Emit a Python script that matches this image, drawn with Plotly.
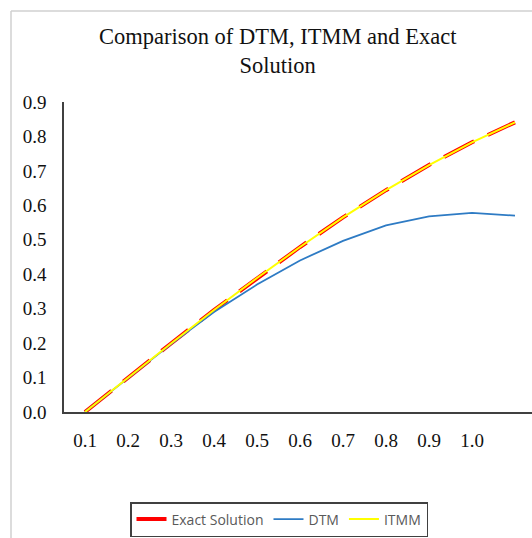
import plotly.graph_objects as go

# Grid points (11 nodes); only the first ten carry an axis label
x_vals = [0.1, 0.2, 0.3, 0.4, 0.5, 0.6, 0.7, 0.8, 0.9, 1.0, 1.1]
x_tick_labels = ["0.1", "0.2", "0.3", "0.4", "0.5", "0.6", "0.7", "0.8", "0.9", "1.0"]

exact_solution = [0.000, 0.100, 0.199, 0.296, 0.389, 0.479, 0.565, 0.644, 0.717, 0.783, 0.841]
dtm = [0.000, 0.099, 0.197, 0.290, 0.370, 0.440, 0.497, 0.542, 0.568, 0.578, 0.570]
itmm = [0.000, 0.100, 0.199, 0.296, 0.389, 0.479, 0.565, 0.644, 0.717, 0.783, 0.841]

y_ticks = [0.0, 0.1, 0.2, 0.3, 0.4, 0.5, 0.6, 0.7, 0.8, 0.9]

W, H = 532, 538
M_L, M_R, M_T, M_B = 64, 0, 102, 126
plot_w = W - M_L - M_R
plot_h = H - M_T - M_B

# 43 px per 0.1 step on the x axis, first node half a step in from the axis
px_per_unit = 430.0
x_left = x_vals[0] - 21.0 / px_per_unit
x_right = x_left + plot_w / px_per_unit

fig = go.Figure()

fig.add_trace(go.Scatter(
    x=x_vals, y=exact_solution, name="Exact Solution", mode="lines",
    line=dict(color="#ff0000", width=4, dash="34px,15px"),
))
fig.add_trace(go.Scatter(
    x=x_vals, y=dtm, name="DTM", mode="lines",
    line=dict(color="#2e7bc4", width=1.8),
))
fig.add_trace(go.Scatter(
    x=x_vals, y=itmm, name="ITMM", mode="lines",
    line=dict(color="#ffff00", width=2),
))

serif = "Liberation Serif, Times New Roman, serif"
axis_color = "#404040"

# Chart title, two centred lines
title_x = (278 - M_L) / plot_w
title_top = 1 + (M_T - 22) / plot_h
fig.add_annotation(
    text="Comparison of DTM, ITMM and Exact<br>Solution",
    xref="paper", yref="paper", x=title_x, y=title_top,
    xanchor="center", yanchor="top", showarrow=False, align="center",
    font=dict(family=serif, size=22.5, color="#111111"),
)

fig.update_layout(
    width=W, height=H,
    margin=dict(l=M_L, r=M_R, t=M_T, b=M_B, pad=0),
    paper_bgcolor="white",
    plot_bgcolor="white",
    xaxis=dict(
        range=[x_left, x_right],
        tickvals=x_vals[:10], ticktext=x_tick_labels,
        showgrid=False, zeroline=False,
        showline=True, linecolor=axis_color, linewidth=1.5,
        ticks="", ticklabelstandoff=10,
        tickfont=dict(family=serif, size=19, color="#111111"),
    ),
    yaxis=dict(
        range=[0, 0.9],
        tickvals=y_ticks, tickformat=".1f",
        showgrid=False, zeroline=False,
        showline=True, linecolor=axis_color, linewidth=1.5,
        ticks="", ticklabelstandoff=12,
        tickfont=dict(family=serif, size=19, color="#111111"),
    ),
    legend=dict(
        orientation="h",
        x=279 / W, xanchor="center", xref="container",
        y=1 - 502 / H, yanchor="top", yref="container",
        bordercolor=axis_color, borderwidth=1.5,
        bgcolor="white",
        font=dict(family="Open Sans, Liberation Sans, sans-serif", size=14, color="#595959"),
        itemwidth=30,
        tracegroupgap=0,
    ),
    showlegend=True,
)

# Light outer chart-area frame (top and left edges)
frame_left = (11 - M_L) / plot_w
frame_top = 1 + (M_T - 11) / plot_h
fig.add_shape(type="line", xref="paper", yref="paper",
              x0=frame_left, x1=1.2, y0=frame_top, y1=frame_top,
              line=dict(color="#d0d0d0", width=1.5), layer="below")
fig.add_shape(type="line", xref="paper", yref="paper",
              x0=frame_left, x1=frame_left, y0=frame_top, y1=-0.6,
              line=dict(color="#d0d0d0", width=1.5), layer="below")

fig.write_html("out.html")
